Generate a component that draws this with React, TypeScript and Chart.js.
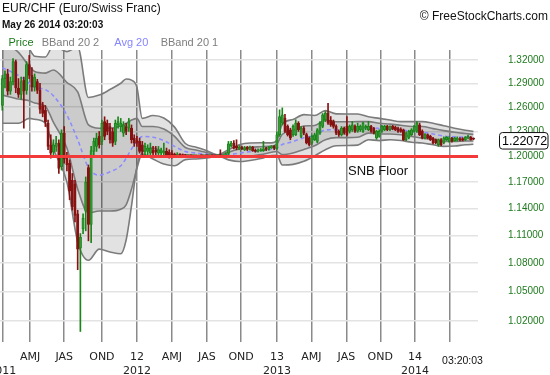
import React, { useEffect, useRef } from "react";
import { Chart, registerables } from "chart.js";

Chart.register(...registerables);

// ---------- data (weekly EUR/CHF candles) ----------
const opens = [
  1.262, 1.296, 1.302, 1.280, 1.292, 1.318, 1.284, 1.276, 1.294, 1.281,
  1.314, 1.300, 1.285, 1.292, 1.281, 1.262, 1.256, 1.240, 1.214, 1.205,
  1.212, 1.216, 1.188, 1.228, 1.200, 1.192, 1.172, 1.168, 1.134, 1.096,
  1.117, 1.137, 1.187, 1.122, 1.206, 1.212, 1.224, 1.218, 1.242, 1.240,
  1.236, 1.230, 1.218, 1.238, 1.236, 1.228, 1.236, 1.234, 1.234, 1.222,
  1.220, 1.218, 1.214, 1.206, 1.206, 1.204, 1.208, 1.208, 1.204, 1.204,
  1.204, 1.206, 1.205, 1.204, 1.2020, 1.2015, 1.2022, 1.2018, 1.2012, 1.2010,
  1.2013, 1.2010, 1.2011, 1.2009, 1.2012, 1.2010, 1.2011, 1.2010, 1.2014, 1.2011,
  1.2010, 1.2015, 1.2010, 1.2013, 1.2035, 1.2130, 1.2160, 1.2120, 1.2090, 1.2110,
  1.2080, 1.2110, 1.2085, 1.2110, 1.2075, 1.2060, 1.2070, 1.2070, 1.2100, 1.2085,
  1.2105, 1.2120, 1.2095, 1.2260, 1.2400, 1.2463, 1.2362, 1.2321, 1.2261, 1.2261,
  1.2402, 1.2241, 1.2341, 1.2261, 1.2221, 1.2161, 1.2200, 1.2181, 1.2281, 1.2362,
  1.2440, 1.2525, 1.2440, 1.2420, 1.2362, 1.2301, 1.2261, 1.2341, 1.2362, 1.2301,
  1.2321, 1.2362, 1.2305, 1.2321, 1.2301, 1.2341, 1.2321, 1.2362, 1.2341, 1.2221,
  1.2241, 1.2301, 1.2321, 1.2362, 1.2321, 1.2362, 1.2350, 1.2341, 1.2330, 1.2321,
  1.2201, 1.2221, 1.2261, 1.2301, 1.2301, 1.2382, 1.2301, 1.2221, 1.2261, 1.2241,
  1.2221, 1.2201, 1.2141, 1.2201, 1.2161, 1.2201, 1.2181, 1.2221, 1.2188, 1.2195,
  1.2213, 1.2215, 1.2201, 1.2218, 1.2229, 1.2215,
];
const highs = [
  1.300, 1.306, 1.308, 1.298, 1.322, 1.320, 1.296, 1.298, 1.298, 1.318,
  1.326, 1.310, 1.302, 1.295, 1.290, 1.266, 1.262, 1.244, 1.226, 1.220,
  1.224, 1.220, 1.232, 1.236, 1.205, 1.196, 1.180, 1.172, 1.138, 1.112,
  1.134, 1.176, 1.190, 1.212, 1.222, 1.228, 1.230, 1.244, 1.248, 1.244,
  1.240, 1.234, 1.244, 1.248, 1.246, 1.242, 1.240, 1.246, 1.238, 1.226,
  1.224, 1.222, 1.218, 1.216, 1.214, 1.216, 1.212, 1.212, 1.212, 1.210,
  1.216, 1.210, 1.208, 1.207, 1.2040, 1.2045, 1.2035, 1.2030, 1.2025, 1.2020,
  1.2018, 1.2016, 1.2016, 1.2015, 1.2018, 1.2015, 1.2016, 1.2020, 1.2018, 1.2015,
  1.2016, 1.2080, 1.2020, 1.2045, 1.2180, 1.2180, 1.2190, 1.2200, 1.2130, 1.2125,
  1.2120, 1.2120, 1.2125, 1.2120, 1.2090, 1.2090, 1.2095, 1.2180, 1.2110, 1.2120,
  1.2130, 1.2130, 1.2300, 1.2566, 1.2590, 1.2510, 1.2380, 1.2340, 1.2380, 1.2443,
  1.2420, 1.2360, 1.2360, 1.2280, 1.2235, 1.2255, 1.2280, 1.2335, 1.2420, 1.2520,
  1.2545, 1.2648, 1.2483, 1.2440, 1.2380, 1.2320, 1.2360, 1.2355, 1.2483, 1.2380,
  1.2422, 1.2380, 1.2402, 1.2380, 1.2415, 1.2380, 1.2422, 1.2375, 1.2350, 1.2315,
  1.2320, 1.2375, 1.2375, 1.2375, 1.2370, 1.2375, 1.2365, 1.2355, 1.2345, 1.2330,
  1.2295, 1.2315, 1.2335, 1.2375, 1.2422, 1.2402, 1.2320, 1.2275, 1.2270, 1.2255,
  1.2230, 1.2210, 1.2210, 1.2215, 1.2235, 1.2240, 1.2235, 1.2230, 1.2230, 1.2235,
  1.2225, 1.2225, 1.2240, 1.2255, 1.2240, 1.2222,
];
const lows = [
  1.256, 1.284, 1.275, 1.276, 1.288, 1.278, 1.272, 1.270, 1.234, 1.276,
  1.296, 1.280, 1.280, 1.277, 1.252, 1.248, 1.236, 1.208, 1.198, 1.200,
  1.206, 1.180, 1.184, 1.192, 1.183, 1.150, 1.138, 1.125, 1.073, 1.0095,
  1.112, 1.115, 1.104, 1.102, 1.200, 1.206, 1.210, 1.214, 1.220, 1.226,
  1.216, 1.212, 1.214, 1.234, 1.230, 1.224, 1.226, 1.230, 1.216, 1.212,
  1.212, 1.204, 1.202, 1.202, 1.202, 1.202, 1.202, 1.202, 1.200, 1.200,
  1.200, 1.199, 1.198, 1.198, 1.1990, 1.2005, 1.2008, 1.2005, 1.2005, 1.2005,
  1.2005, 1.2005, 1.2006, 1.2005, 1.2006, 1.2005, 1.2006, 1.2006, 1.2007, 1.2006,
  1.2006, 1.2005, 1.2006, 1.2008, 1.2020, 1.2110, 1.2090, 1.2080, 1.2080, 1.2080,
  1.2070, 1.2070, 1.2075, 1.2060, 1.2050, 1.2050, 1.2060, 1.2060, 1.2070, 1.2075,
  1.2095, 1.2080, 1.2085, 1.2240, 1.2380, 1.2290, 1.2245, 1.2200, 1.2240, 1.2250,
  1.2300, 1.2225, 1.2260, 1.2150, 1.2125, 1.2145, 1.2190, 1.2165, 1.2265, 1.2345,
  1.2420, 1.2385, 1.2362, 1.2340, 1.2260, 1.2240, 1.2245, 1.2265, 1.2245, 1.2280,
  1.2300, 1.2290, 1.2290, 1.2300, 1.2290, 1.2320, 1.2310, 1.2290, 1.2270, 1.2205,
  1.2230, 1.2290, 1.2310, 1.2310, 1.2310, 1.2320, 1.2310, 1.2290, 1.2290, 1.2190,
  1.2190, 1.2210, 1.2250, 1.2290, 1.2290, 1.2250, 1.2210, 1.2210, 1.2210, 1.2190,
  1.2150, 1.2150, 1.2121, 1.2130, 1.2150, 1.2190, 1.2170, 1.2170, 1.2180, 1.2185,
  1.2185, 1.2185, 1.2190, 1.2210, 1.2195, 1.2200,
];
const closes = [
  1.296, 1.302, 1.280, 1.292, 1.318, 1.284, 1.276, 1.292, 1.280, 1.314,
  1.300, 1.285, 1.298, 1.281, 1.257, 1.252, 1.242, 1.212, 1.204, 1.214,
  1.216, 1.186, 1.228, 1.197, 1.190, 1.160, 1.142, 1.132, 1.095, 1.108,
  1.129, 1.170, 1.122, 1.207, 1.218, 1.222, 1.214, 1.240, 1.224, 1.230,
  1.220, 1.216, 1.240, 1.242, 1.240, 1.238, 1.230, 1.242, 1.220, 1.216,
  1.216, 1.206, 1.206, 1.212, 1.210, 1.210, 1.204, 1.205, 1.208, 1.208,
  1.206, 1.202, 1.202, 1.201, 1.2015, 1.2022, 1.2018, 1.2012, 1.2010, 1.2013,
  1.2010, 1.2011, 1.2009, 1.2012, 1.2010, 1.2011, 1.2010, 1.2014, 1.2011, 1.2010,
  1.2012, 1.2010, 1.2013, 1.2030, 1.2150, 1.2160, 1.2100, 1.2100, 1.2110, 1.2090,
  1.2100, 1.2085, 1.2110, 1.2065, 1.2060, 1.2080, 1.2080, 1.2090, 1.2085, 1.2110,
  1.2115, 1.2095, 1.2260, 1.2483, 1.2504, 1.2301, 1.2261, 1.2221, 1.2362, 1.2402,
  1.2321, 1.2341, 1.2281, 1.2161, 1.2141, 1.2241, 1.2260, 1.2321, 1.2402, 1.2504,
  1.2525, 1.2402, 1.2380, 1.2362, 1.2281, 1.2261, 1.2341, 1.2281, 1.2261, 1.2362,
  1.2382, 1.2301, 1.2362, 1.2362, 1.2402, 1.2362, 1.2362, 1.2301, 1.2281, 1.2301,
  1.2301, 1.2362, 1.2362, 1.2321, 1.2362, 1.2330, 1.2321, 1.2301, 1.2301, 1.2201,
  1.2281, 1.2301, 1.2321, 1.2362, 1.2402, 1.2261, 1.2221, 1.2261, 1.2221, 1.2201,
  1.2161, 1.2161, 1.2201, 1.2141, 1.2221, 1.2229, 1.2221, 1.2181, 1.2221, 1.2221,
  1.2195, 1.2195, 1.2229, 1.2241, 1.2201, 1.22072,
];

// Bollinger band lines, read at these candle positions
const bandIdx = [
  0, 6, 10, 12, 16, 19, 24, 28, 32, 36, 40, 44, 46, 48, 50, 52, 56, 60, 64, 68, 72,
  76, 80, 84, 88, 92, 96, 100, 102, 104, 108, 112, 116, 120, 124, 128, 132, 136, 140, 144, 148,
  152, 156, 160, 164, 168, 172, 175,
];
const bbUpper2 = [
  1.380, 1.360, 1.335, 1.325, 1.324, 1.339, 1.331, 1.337, 1.272, 1.275, 1.282, 1.290, 1.2955, 1.294, 1.285, 1.246, 1.2495, 1.2464, 1.2353, 1.2155, 1.2111,
  1.2069, 1.2021, 1.2080, 1.2140, 1.2161, 1.2163, 1.2162, 1.2194, 1.2388, 1.2447, 1.2507, 1.2495, 1.2556, 1.2516, 1.2514, 1.2515, 1.2480, 1.2460, 1.2440, 1.2420,
  1.2420, 1.2420, 1.2400, 1.2370, 1.2340, 1.2315, 1.2300,
];
const bbUpper1 = [
  1.345, 1.330, 1.312, 1.305, 1.303, 1.307, 1.291, 1.279, 1.238, 1.234, 1.234, 1.237, 1.240, 1.244, 1.246, 1.236, 1.236, 1.233, 1.224, 1.2107, 1.2076,
  1.2047, 1.2017, 1.2050, 1.2090, 1.2109, 1.2116, 1.2124, 1.2149, 1.2266, 1.2312, 1.2366, 1.2373, 1.2437, 1.2419, 1.2418, 1.2420, 1.2420, 1.2400, 1.2390, 1.2375,
  1.2360, 1.2360, 1.2335, 1.2310, 1.2290, 1.2275, 1.2265,
];
const avg20 = [
  1.310, 1.300, 1.290, 1.285, 1.282, 1.274, 1.250, 1.220, 1.187, 1.178, 1.182, 1.189, 1.198, 1.209, 1.218, 1.224, 1.223, 1.219, 1.212, 1.2059, 1.2041,
  1.2025, 1.2013, 1.2020, 1.2040, 1.2057, 1.2069, 1.2087, 1.2104, 1.2144, 1.2177, 1.2225, 1.2251, 1.2318, 1.2322, 1.2322, 1.2325, 1.2350, 1.2335, 1.2330, 1.2320,
  1.2300, 1.2290, 1.2270, 1.2245, 1.2235, 1.2230, 1.2225,
];
const bbLower1 = [
  1.275, 1.270, 1.268, 1.265, 1.261, 1.241, 1.210, 1.162, 1.135, 1.137, 1.137, 1.139, 1.144, 1.162, 1.186, 1.205, 1.210, 1.205, 1.2005, 1.2011, 1.2006,
  1.2003, 1.2009, 1.1990, 1.1990, 1.2005, 1.2022, 1.2050, 1.2059, 1.2022, 1.2042, 1.2084, 1.2129, 1.2199, 1.2225, 1.2226, 1.2230, 1.2280, 1.2270, 1.2270, 1.2260,
  1.2240, 1.2220, 1.2205, 1.2180, 1.2180, 1.2185, 1.2185,
];
const bbLower2 = [
  1.240, 1.240, 1.246, 1.245, 1.240, 1.209, 1.170, 1.103, 1.083, 1.095, 1.092, 1.090, 1.105, 1.143, 1.188, 1.203, 1.197, 1.191, 1.189, 1.1963, 1.1971,
  1.1981, 1.2005, 1.1960, 1.1940, 1.1953, 1.1975, 1.2012, 1.2014, 1.1900, 1.1907, 1.1943, 1.2007, 1.2080, 1.2128, 1.2130, 1.2135, 1.2200, 1.2190, 1.2200, 1.2190,
  1.2170, 1.2160, 1.2140, 1.2120, 1.2125, 1.2140, 1.2145,
];

// axes
const quarterTicks = [0, 10.3, 23, 37, 50, 63, 76, 88.7, 102, 114.8, 127.8, 140.4, 153.3, 166.3];
const quarterLabels = ["", "AMJ", "JAS", "OND", "12", "AMJ", "JAS", "OND", "13", "AMJ", "JAS", "OND", "14", ""];
const yearLabels = ["2011", "", "", "", "2012", "", "", "", "2013", "", "", "", "2014", ""];
const priceTicks = [1.02, 1.05, 1.08, 1.11, 1.14, 1.17, 1.2, 1.23, 1.26, 1.29, 1.32];
const priceTickLabels = ["1.02000", "1.05000", "1.08000", "1.11000", "1.14000", "1.17000", "1.20000", "1.23000", "1.26000", "1.29000", "1.32000"];
const xMin = -0.854;
const xMax = 176.7;
const yMin = 0.99905;
const yMax = 1.3331;

const floorLevel = 1.2;
const lastPrice = 1.22072;
const lastPriceLabel = "1.22072";
const titleText = "EUR/CHF (Euro/Swiss Franc)";
const dateText = "May 26 2014 03:20:03";
const timeText = "03:20:03";
const copyrightText = "\u00A9 FreeStockCharts.com";
const floorText = "SNB Floor";
const legendItems = [
  { text: "Price", color: "#1d7a1d", x: 8.5 },
  { text: "BBand 20 2", color: "#7d7d7d", x: 41.7 },
  { text: "Avg 20", color: "#8585ff", x: 114.3 },
  { text: "BBand 20 1", color: "#7d7d7d", x: 160.7 },
];

const UP = "#1a861a";
const DOWN = "#861212";

const overlayPlugin = {
  id: "overlay",
  afterDraw(chart: any) {
    const ctx = chart.ctx as CanvasRenderingContext2D;
    const ys = chart.scales.y;
    ctx.save();
    ctx.textBaseline = "middle";
    ctx.textAlign = "left";
    ctx.fillStyle = "#111";
    ctx.font = '12px "Liberation Sans", Arial, sans-serif';
    ctx.fillText(titleText, 2, 9);
    ctx.font = 'bold 10px "Liberation Sans", Arial, sans-serif';
    ctx.fillText(dateText, 2, 25.5);
    ctx.font = '12px "Liberation Sans", Arial, sans-serif';
    ctx.textAlign = "right";
    ctx.fillText(copyrightText, 548, 17);
    ctx.textAlign = "left";
    ctx.font = '11px "Liberation Sans", Arial, sans-serif';
    for (const it of legendItems) {
      ctx.fillStyle = it.color;
      ctx.fillText(it.text, it.x, 43);
    }
    const fy = ys.getPixelForValue(floorLevel);
    ctx.fillStyle = "#111";
    ctx.font = '13px "Liberation Sans", Arial, sans-serif';
    ctx.fillText(floorText, 348, fy + 14.5);
    ctx.font = '10.5px "Liberation Sans", Arial, sans-serif';
    ctx.textAlign = "center";
    ctx.fillText(timeText, 462.5, 361.5);
    const py = ys.getPixelForValue(lastPrice) + 1.6;
    ctx.beginPath();
    (ctx as any).roundRect(499.5, py - 8.2, 48.5, 16.5, 3);
    ctx.fillStyle = "#fff";
    ctx.fill();
    ctx.lineWidth = 1;
    ctx.strokeStyle = "#111";
    ctx.stroke();
    ctx.fillStyle = "#000";
    ctx.textAlign = "left";
    ctx.font = '12.5px "Liberation Sans", Arial, sans-serif';
    ctx.fillText(lastPriceLabel, 502, py + 0.5);
    ctx.restore();
  },
};

export default function App() {
  const ref = useRef<HTMLCanvasElement | null>(null);

  useEffect(() => {
    if (!ref.current) return;
    const isUp = closes.map((c, i) => c >= opens[i]);
    const wickData = closes.map((_, i) => ({ x: i, y: [lows[i], highs[i]] }));
    const bodyData = closes.map((c, i) => ({ x: i, y: [opens[i], c] }));
    const band = (arr: number[]) => arr.map((v, k) => ({ x: bandIdx[k], y: v }));
    const bandLine = {
      type: "line" as const,
      pointRadius: 0,
      borderColor: "#7b7b7b",
      borderWidth: 1.6,
      cubicInterpolationMode: "monotone" as const,
    };

    const chart = new Chart(ref.current, {
      type: "bar",
      data: {
        datasets: [
          { ...bandLine, label: "BBand 20 2 upper", data: band(bbUpper2), fill: 4, backgroundColor: "rgba(0,0,0,0.115)", order: 8 } as any,
          { ...bandLine, label: "BBand 20 1 upper", data: band(bbUpper1), fill: 3, backgroundColor: "rgba(0,0,0,0.10)", order: 7 } as any,
          {
            type: "line",
            label: "Avg 20",
            data: band(avg20),
            pointRadius: 0,
            borderColor: "#8c8cff",
            borderWidth: 1.6,
            borderDash: [4, 3],
            cubicInterpolationMode: "monotone",
            fill: false,
            order: 4,
          } as any,
          { ...bandLine, label: "BBand 20 1 lower", data: band(bbLower1), fill: false, order: 6 } as any,
          { ...bandLine, label: "BBand 20 2 lower", data: band(bbLower2), fill: false, order: 5 } as any,
          {
            type: "bar",
            label: "wick",
            data: wickData,
            grouped: false,
            barThickness: 1,
            backgroundColor: isUp.map((u) => (u ? UP : DOWN)),
            borderWidth: 0,
            order: 3,
          } as any,
          {
            type: "bar",
            label: "Price",
            data: bodyData,
            grouped: false,
            barThickness: 2.4,
            minBarLength: 1,
            backgroundColor: isUp.map((u) => (u ? "rgba(120,190,120,0.35)" : DOWN)),
            borderColor: isUp.map((u) => (u ? UP : DOWN)),
            borderWidth: 1,
            borderSkipped: false,
            order: 2,
          } as any,
          {
            type: "line",
            label: "SNB Floor",
            data: [
              { x: xMin, y: floorLevel },
              { x: xMax, y: floorLevel },
            ],
            pointRadius: 0,
            borderColor: "#f23a3a",
            borderWidth: 3,
            fill: false,
            order: 0,
          } as any,
        ],
      },
      options: {
        animation: false,
        responsive: false,
        devicePixelRatio: 1,
        events: [],
        layout: { padding: { top: 50, left: 0, right: 0, bottom: 0 } },
        plugins: { legend: { display: false }, title: { display: false }, tooltip: { enabled: false } },
        scales: {
          x: {
            type: "linear",
            min: xMin,
            max: xMax,
            bounds: "data",
            offset: false,
            afterBuildTicks: (s: any) => {
              s.ticks = quarterTicks.map((v) => ({ value: v }));
            },
            afterFit: (s: any) => {
              s.height = 33;
              s.paddingLeft = 0;
              s.paddingRight = 0;
            },
            grid: { color: "#8a8a8a", lineWidth: 1.5, drawTicks: false, offset: false },
            border: { display: false },
            ticks: {
              autoSkip: false,
              maxRotation: 0,
              minRotation: 0,
              padding: 8,
              color: "#222",
              font: { family: '"DejaVu Sans", Verdana, sans-serif', size: 11, lineHeight: 1.27 },
              callback: (_v: any, i: number) => [quarterLabels[i], yearLabels[i]],
            },
          },
          y: {
            type: "logarithmic",
            position: "right",
            min: yMin,
            max: yMax,
            bounds: "data",
            afterBuildTicks: (s: any) => {
              s.ticks = priceTicks.map((v) => ({ value: v }));
            },
            afterFit: (s: any) => {
              s.width = 72;
              s.paddingTop = 0;
              s.paddingBottom = 0;
            },
            grid: { color: "#e3e3e3", lineWidth: 1.5, drawTicks: false },
            border: { display: false },
            ticks: {
              padding: 30,
              color: "#1f7a1f",
              font: { family: '"Liberation Sans", Arial, sans-serif', size: 10 },
              callback: (_v: any, i: number) => priceTickLabels[i],
            },
          },
        },
      } as any,
      plugins: [overlayPlugin],
    });
    return () => chart.destroy();
  }, []);

  return (
    <div style={{ position: "absolute", left: 0, top: 0, width: 550, height: 375, background: "#fff" }}>
      <canvas ref={ref} width={550} height={375} style={{ display: "block" }} />
    </div>
  );
}
